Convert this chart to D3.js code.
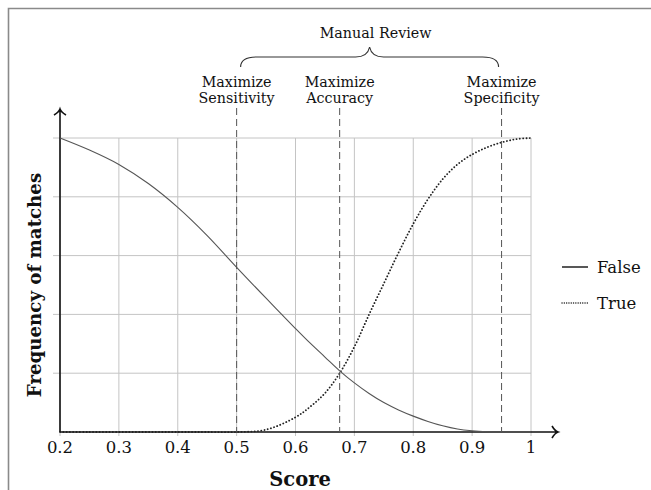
<!DOCTYPE html>
<html>
  <head>
    <meta charset="utf-8">
    <title>Score</title>
    <script src="https://cdn.jsdelivr.net/npm/d3@7"></script>
	<style>
body {
  margin: 0;
  background: #fff;
}
text {
  font-family: "DejaVu Serif", serif;
  fill: #111;
}
.grid line {
  stroke: #c4c4c4;
  stroke-width: 1px;
}
.axisLine {
  fill: none;
  stroke: #111;
  stroke-width: 1.6px;
}
.lineFalse {
  fill: none;
  stroke: #555;
  stroke-width: 1.1px;
}
.lineTrue {
  fill: none;
  stroke: #222;
  stroke-width: 1.8px;
  stroke-dasharray: 0.1, 3.2;
  stroke-linecap: round;
}
.marker {
  stroke: #555;
  stroke-width: 1px;
  stroke-dasharray: 7, 4;
}
.tickTxt {
  font-size: 16.5px;
}
.noteTxt {
  font-size: 14.3px;
}
.axTitle {
  font-size: 19.5px;
  font-weight: bold;
}
	</style>
  </head>
  <body>
<script>

// values
var scoreX  = [0.2, 0.25, 0.3, 0.35, 0.4, 0.45, 0.5, 0.55, 0.6, 0.625, 0.65, 0.675, 0.7, 0.725, 0.75, 0.775, 0.8, 0.825, 0.85, 0.875, 0.9, 0.925, 0.95, 0.975, 1.0];
var falseY  = [1.0, 0.959, 0.91, 0.845, 0.764, 0.668, 0.56, 0.455, 0.352, 0.302, 0.255, 0.208, 0.167, 0.131, 0.1, 0.075, 0.054, 0.036, 0.021, 0.01, 0.004, 0.001, 0, 0, 0];
var trueY   = [0, 0, 0, 0, 0, 0, 0, 0.008, 0.05, 0.086, 0.132, 0.2, 0.29, 0.4, 0.505, 0.61, 0.708, 0.792, 0.86, 0.91, 0.944, 0.968, 0.985, 0.996, 1.0];
var xTicks  = [0.2, 0.3, 0.4, 0.5, 0.6, 0.7, 0.8, 0.9, 1];
var yGrid   = [0.2, 0.4, 0.6, 0.8, 1.0];
var markers = [
  {x: 0.5, l1: "Maximize", l2: "Sensitivity"},
  {x: 0.675, l1: "Maximize", l2: "Accuracy"},
  {x: 0.95, l1: "Maximize", l2: "Specificity"}
];
var legendItems = [{name: "False", cls: "lineFalse"}, {name: "True", cls: "lineTrue"}];

var width = 651, height = 490;

var x = d3.scaleLinear()
.domain([0.2, 1])
.range([60, 531]);

var y = d3.scaleLinear()
.domain([0, 1])
.range([432, 138]);

var svg = d3.select("body").append("svg")
	.attr("width", width)
	.attr("height", height);

// frame of the scanned page
svg.append("path")
	.attr("d", "M8.5,490 L8.5,8.5 L651,8.5")
	.attr("fill", "none")
	.attr("stroke", "#8a8a8a")
	.attr("stroke-width", 1.6);

var grid = svg.append("g").attr("class", "grid");

grid.selectAll(".gy")
	.data(yGrid)
	.enter().append("line")
	.attr("x1", x(0.2) - 7)
	.attr("x2", x(1))
	.attr("y1", function(d) { return y(d); })
	.attr("y2", function(d) { return y(d); });

grid.selectAll(".gx")
	.data(xTicks)
	.enter().append("line")
	.attr("x1", function(d) { return x(d); })
	.attr("x2", function(d) { return x(d); })
	.attr("y1", y(1))
	.attr("y2", y(0) + 4);

var pts = scoreX.map(function(s, i) { return {s: s, f: falseY[i], t: trueY[i]}; });

var lineF = d3.line()
.curve(d3.curveCatmullRom.alpha(0.5))
.x(function(d) { return x(d.s); })
.y(function(d) { return y(d.f); });

var lineT = d3.line()
.curve(d3.curveCatmullRom.alpha(0.5))
.x(function(d) { return x(d.s); })
.y(function(d) { return y(d.t); });

// axes with arrow tips
svg.append("path")
	.attr("class", "axisLine")
	.attr("d", "M" + x(0.2) + "," + y(0) + " L" + (x(1) + 27) + "," + y(0) +
		" M" + (x(1) + 21) + "," + (y(0) - 6) + " Q" + (x(1) + 24) + "," + (y(0) - 1) + " " + (x(1) + 27) + "," + y(0) +
		" Q" + (x(1) + 24) + "," + (y(0) + 1) + " " + (x(1) + 21) + "," + (y(0) + 6));

svg.append("path")
	.attr("class", "axisLine")
	.attr("d", "M" + x(0.2) + "," + y(0) + " L" + x(0.2) + "," + (y(1) - 29) +
		" M" + (x(0.2) - 6) + "," + (y(1) - 23) + " Q" + (x(0.2) - 1) + "," + (y(1) - 26) + " " + x(0.2) + "," + (y(1) - 29) +
		" Q" + (x(0.2) + 1) + "," + (y(1) - 26) + " " + (x(0.2) + 6) + "," + (y(1) - 23));

svg.append("path")
	.datum(pts)
	.attr("class", "lineTrue")
	.attr("d", lineT);

svg.append("path")
	.datum(pts)
	.attr("class", "lineFalse")
	.attr("d", lineF);

// dashed decision lines
svg.selectAll(".marker")
	.data(markers)
	.enter().append("line")
	.attr("class", "marker")
	.attr("x1", function(d) { return x(d.x); })
	.attr("x2", function(d) { return x(d.x); })
	.attr("y1", 108)
	.attr("y2", y(0));

svg.selectAll(".m1")
	.data(markers)
	.enter().append("text")
	.attr("class", "noteTxt")
	.attr("text-anchor", "middle")
	.attr("x", function(d) { return x(d.x); })
	.attr("y", 87)
	.text(function(d) { return d.l1; });

svg.selectAll(".m2")
	.data(markers)
	.enter().append("text")
	.attr("class", "noteTxt")
	.attr("text-anchor", "middle")
	.attr("x", function(d) { return x(d.x); })
	.attr("y", 103)
	.text(function(d) { return d.l2; });

// brace over the manual review range
var bl = x(markers[0].x) + 4, br = x(markers[2].x) - 3, bm = (bl + br) / 2;
svg.append("path")
	.attr("fill", "none")
	.attr("stroke", "#333")
	.attr("stroke-width", 1.1)
	.attr("d", "M" + bl + ",67 Q" + bl + ",57 " + (bl + 16) + ",57 L" + (bm - 14) + ",57 Q" + (bm - 2) + ",57 " + bm + ",47" +
		" Q" + (bm + 2) + ",57 " + (bm + 14) + ",57 L" + (br - 16) + ",57 Q" + br + ",57 " + br + ",67");

svg.append("text")
	.attr("class", "noteTxt")
	.attr("text-anchor", "middle")
	.attr("x", bm + 6)
	.attr("y", 38)
	.text("Manual Review");

// tick labels
svg.selectAll(".tl")
	.data(xTicks)
	.enter().append("text")
	.attr("class", "tickTxt")
	.attr("text-anchor", "middle")
	.attr("x", function(d) { return x(d); })
	.attr("y", 453)
	.text(function(d) { return d3.format("")(d); });

svg.append("text")
	.attr("class", "axTitle")
	.attr("text-anchor", "middle")
	.attr("x", 300)
	.attr("y", 486)
	.text("Score");

svg.append("text")
	.attr("class", "axTitle")
	.attr("text-anchor", "middle")
	.style("font-size", "18.2px")
	.attr("transform", "translate(41," + y(0.5) + ") rotate(-90)")
	.text("Frequency of matches");

// legend
var leg = svg.selectAll(".leg")
	.data(legendItems)
	.enter().append("g")
	.attr("transform", function(d, i) { return "translate(562," + (267 + i * 36) + ")"; });

leg.append("line")
	.attr("class", function(d) { return d.cls; })
	.attr("x1", 0)
	.attr("x2", 26)
	.attr("y1", 0)
	.attr("y2", 0)
	.style("stroke", function(d) { return d.name == "False" ? "#111" : null; })
	.style("stroke-width", "1.4px")
	.style("stroke-dasharray", function(d) { return d.name == "True" ? "0.1, 2.2" : null; });

leg.append("text")
	.attr("class", "tickTxt")
	.attr("x", 35)
	.attr("y", 5.5)
	.text(function(d) { return d.name; });

</script>
  </body>
</html>
